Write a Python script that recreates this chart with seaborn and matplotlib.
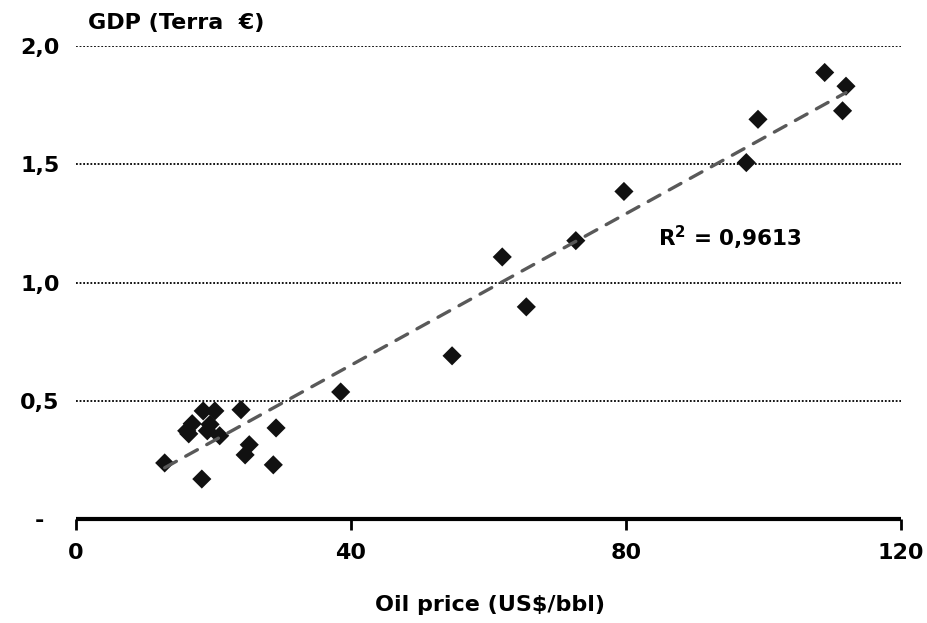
import numpy as np
import pandas as pd
import matplotlib.pyplot as plt
import seaborn as sns

# Data
oil_price = [12.9, 18.3, 18.5, 20.2, 24.0, 16.1, 16.9, 19.1, 20.9, 25.2,
             24.6, 29.1, 28.7, 19.5, 16.4, 38.5, 54.7, 62.0, 65.5, 72.7,
             79.7, 97.5, 99.2, 108.9, 111.5, 112.0]
gdp = [0.237, 0.169, 0.457, 0.457, 0.462, 0.373, 0.403, 0.373, 0.352, 0.314,
       0.271, 0.385, 0.229, 0.40, 0.36, 0.537, 0.69, 1.108, 0.897, 1.177,
       1.385, 1.507, 1.69, 1.888, 1.726, 1.83]
x_ticks = [0, 40, 80, 120]
y_ticks = [0, 0.5, 1.0, 1.5, 2.0]
y_tick_labels = ['-', '0,5', '1,0', '1,5', '2,0']
r2_text = 'R$^\\mathbf{2}$ = 0,9613'

df = pd.DataFrame({'oil': oil_price, 'gdp': gdp})

sns.set_style('white')
plt.rcParams['font.family'] = ['DejaVu Sans']
plt.rcParams['font.weight'] = 'bold'
plt.rcParams['mathtext.default'] = 'bf'
plt.rcParams['text.color'] = 'black'
plt.rcParams['xtick.color'] = 'black'
plt.rcParams['ytick.color'] = 'black'
plt.rcParams['xtick.labelcolor'] = 'black'
plt.rcParams['ytick.labelcolor'] = 'black'

fig = plt.figure(figsize=(9.28, 6.23), dpi=100)
ax = fig.add_axes([76 / 928, 104 / 623, 825 / 928, 473 / 623])

# dotted horizontal gridlines
for yv in y_ticks[1:]:
    ax.axhline(yv, color='black', linestyle=(0, (1, 1)), linewidth=1.3, zorder=1)

# linear trend line
sns.regplot(data=df, x='oil', y='gdp', scatter=False, ci=None, ax=ax,
            line_kws=dict(color='#595959', linewidth=2.4,
                          linestyle=(0, (4, 3.2)), dash_capstyle='round',
                          zorder=3))

sns.scatterplot(data=df, x='oil', y='gdp', marker='D', s=95, color='#111111',
                edgecolor='none', ax=ax, zorder=2)

ax.set_xlim(0, 120)
ax.set_ylim(0, 2.0)
ax.set_xticks(x_ticks)
ax.set_yticks(y_ticks)
ax.set_yticklabels(y_tick_labels, ha='center')
ax.set_xlabel('')
ax.set_ylabel('')

for side in ['top', 'right', 'left']:
    ax.spines[side].set_visible(False)
ax.spines['bottom'].set_linewidth(3)
ax.spines['bottom'].set_color('black')
ax.spines['bottom'].set_capstyle('butt')

ax.tick_params(axis='x', direction='out', length=8, width=2, color='black',
               bottom=True, pad=9, labelsize=16)
ax.tick_params(axis='y', length=0, pad=26, labelsize=16)
for lab in ax.get_xticklabels() + ax.get_yticklabels():
    lab.set_fontweight('bold')

ax.text(0.705, 0.595, r2_text, transform=ax.transAxes, fontsize=15.5,
        fontweight='bold', ha='left', va='center')

fig.text(88 / 928, 1 - 23 / 623, 'GDP (Terra  €)', fontsize=16,
         fontweight='bold', ha='left', va='center')
fig.text(490 / 928, 1 - 605 / 623, 'Oil price (US$/bbl)', fontsize=16,
         fontweight='bold', ha='center', va='center')

fig.savefig('out.png', dpi=100)
